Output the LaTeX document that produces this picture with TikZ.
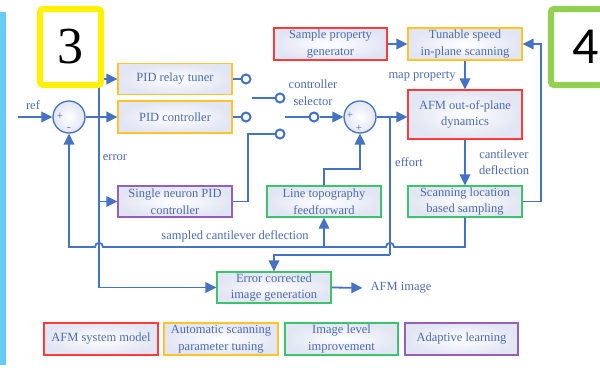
\documentclass[tikz,border=0pt]{standalone}
\usepackage{fontspec}
\setmainfont{Liberation Serif}
\newfontfamily\numfont{Carlito}
\usetikzlibrary{arrows.meta,calc}
\definecolor{ln}{HTML}{4472C4}
\definecolor{tx}{HTML}{4D6BB2}
\definecolor{cred}{HTML}{FF3B3B}
\definecolor{cyel}{HTML}{FFC425}
\definecolor{cgrn}{HTML}{3CC46C}
\definecolor{cpur}{HTML}{9660B8}
\definecolor{bfill}{HTML}{E2E5F3}
\definecolor{ybox}{HTML}{FFF200}
\definecolor{gbox}{HTML}{92D050}
\definecolor{lbar}{HTML}{66CCF5}
\tikzset{
  blk/.style={draw, line width=1.3pt, inner sep=0pt, align=center, text=tx,
    font=\fontsize{12.5}{16.5}\selectfont, inner color=white, outer color=bfill,
    minimum width=114pt, minimum height=31pt},
  lbl/.style={text=tx, align=center, inner sep=0pt, font=\fontsize{12.5}{16.5}\selectfont},
  sgn/.style={text=tx, inner sep=0pt, font=\fontsize{11}{11}\selectfont},
  sumc/.style={circle, draw=ln, line width=1.3pt, minimum size=32pt, inner sep=0pt,
    inner color=white, outer color=bfill},
  term/.style={circle, draw=ln, line width=2pt, minimum size=9pt, inner sep=0pt, fill=white},
  wire/.style={draw=ln, line width=1.8pt},
  arr/.style={wire, -{Triangle[length=11pt,width=10.5pt]}},
  bigbox/.style={draw, line width=6pt, rounded corners=3pt, fill=white, text=black}
}
\begin{document}
\begin{tikzpicture}[x=1pt,y=-1pt]
\useasboundingbox (0,0) rectangle (600,367);
\fill[lbar] (0,12) rectangle (6,365);

% blocks
\node[blk, draw=cyel] (relay) at (175,79) {PID relay tuner};
\node[blk, draw=cyel, minimum height=32pt] (pidc) at (175,117) {PID controller};
\node[blk, draw=cpur] (sn) at (175,201.5) {Single neuron PID\\controller};
\node[blk, draw=cred, minimum width=113pt, minimum height=32pt] (spg) at (330.5,44) {Sample property\\generator};
\node[blk, draw=cyel, minimum height=32pt] (tun) at (465,44) {Tunable speed\\in-plane scanning};
\node[blk, draw=cred, minimum height=49pt] (afm) at (465,114.5) {AFM out-of-plane\\dynamics};
\node[blk, draw=cgrn] (scan) at (465,201.5) {Scanning location\\based sampling};
\node[blk, draw=cgrn] (lt) at (324,201.5) {Line topography\\feedforward};
\node[blk, draw=cgrn] (err) at (274,287.5) {Error corrected\\image generation};

% legend
\node[blk, draw=cred, minimum height=32pt] (lg1) at (101,339) {AFM system model};
\node[blk, draw=cyel, minimum height=32pt] (lg2) at (221,339) {Automatic scanning\\parameter tuning};
\node[blk, draw=cgrn, minimum width=113pt, minimum height=32pt] (lg3) at (341.5,339) {Image level\\improvement};
\node[blk, draw=cpur, minimum width=113pt, minimum height=32pt] (lg4) at (461.5,339) {Adaptive learning};

% summing junctions
\node[sumc] (s1) at (69,117) {};
\node[sgn] (s1p) at (60,116) {+};
\node[sgn] (s1m) at (69,129) {-};
\node[sumc] (s2) at (360,117) {};
\node[sgn] (s2p) at (350,115) {+};
\node[sgn] (s2q) at (359,128) {+};

% switch terminals
\node[term] (t1) at (246,79) {};
\node[term] (t2) at (246,117) {};
\node[term] (t3) at (280,98) {};
\node[term] (t4) at (280,134) {};
\node[term] (t5) at (314,117) {};

% labels
\node[lbl] (ref) at (33,105) {ref};
\node[lbl] (errl) at (115,158) {error};
\node[lbl] (csel) at (313,92.5) {controller\\selector};
\node[lbl] (mapp) at (422,76) {map property};
\node[lbl] (effl) at (409,162) {effort};
\node[lbl] (cdef) at (504,162) {cantilever\\deflection};
\node[lbl] (scd) at (235,236) {sampled cantilever deflection};
\node[lbl] (aimg) at (401,288) {AFM image};

% coordinates
\coordinate (refin) at (18,117);
\coordinate (ej) at (99,117);
\coordinate (t3l) at (252,98);
\coordinate (t5l) at (285,117);
\coordinate (ef) at (390,117);
\coordinate (efb) at (390,255);
\coordinate (fbL) at (69,247);
\coordinate (rtx) at (541,201.5);

% connectors
\draw[arr] (refin) -- (s1.west);
\draw[arr] (s1.east) -- (pidc.west);
\draw[wire] (ej |- relay) -- (ej |- err);
\draw[arr] (ej |- relay) -- (relay.west);
\draw[arr] (ej |- sn) -- (sn.west);
\draw[arr] (ej |- err) -- (err.west);
\draw[wire] (relay.east) -- (t1.west);
\draw[wire] (pidc.east) -- (t2.west);
\draw[wire] (t3l) -- (t3.west);
\draw[wire] (sn.east) -- ++(15,0) |- (t4.west);
\draw[wire] (t5l) -- (t5.west);
\draw[arr] (t5.east) -- (s2.west);
\draw[arr] (s2.east) -- (afm.west |- s2.east);
\draw[wire] (ef) -- (efb);
\draw[arr] (efb) -| (err.north);
\draw[arr] (spg.east) -- (tun.west);
\draw[arr] (tun.south) -- (afm.north);
\draw[arr] (afm.south) -- (scan.north);
\draw[arr] (scan.east) -- (rtx) |- (tun.east);
\draw[arr] (lt.north) -- ++(0,-16) -| (s2.south);
\draw[arr] (lt.south |- fbL) -- (lt.south);
\draw[arr] (scan.south) -- (scan.south |- fbL)
  -- ($(ef |- fbL)+(4,0)$) .. controls ($(ef |- fbL)+(4,-5.5)$) and ($(ef |- fbL)+(-4,-5.5)$) .. ($(ef |- fbL)+(-4,0)$)
  -- ($(ej |- fbL)+(4,0)$) .. controls ($(ej |- fbL)+(4,-5.5)$) and ($(ej |- fbL)+(-4,-5.5)$) .. ($(ej |- fbL)+(-4,0)$)
  -- (fbL) -- (s1.south);
\draw[arr, shorten >=8pt] (err.east) -- (aimg.west);

% overlay boxes
\node[bigbox, draw=ybox, minimum width=61pt, minimum height=76pt,
  font=\fontsize{52}{52}\selectfont] (n3) at (70.5,47) {3};
\node[bigbox, draw=gbox, minimum width=70pt, minimum height=76pt,
  font=\numfont\fontsize{52}{52}\selectfont] (n4) at (586,47) {4};
\end{tikzpicture}
\end{document}
